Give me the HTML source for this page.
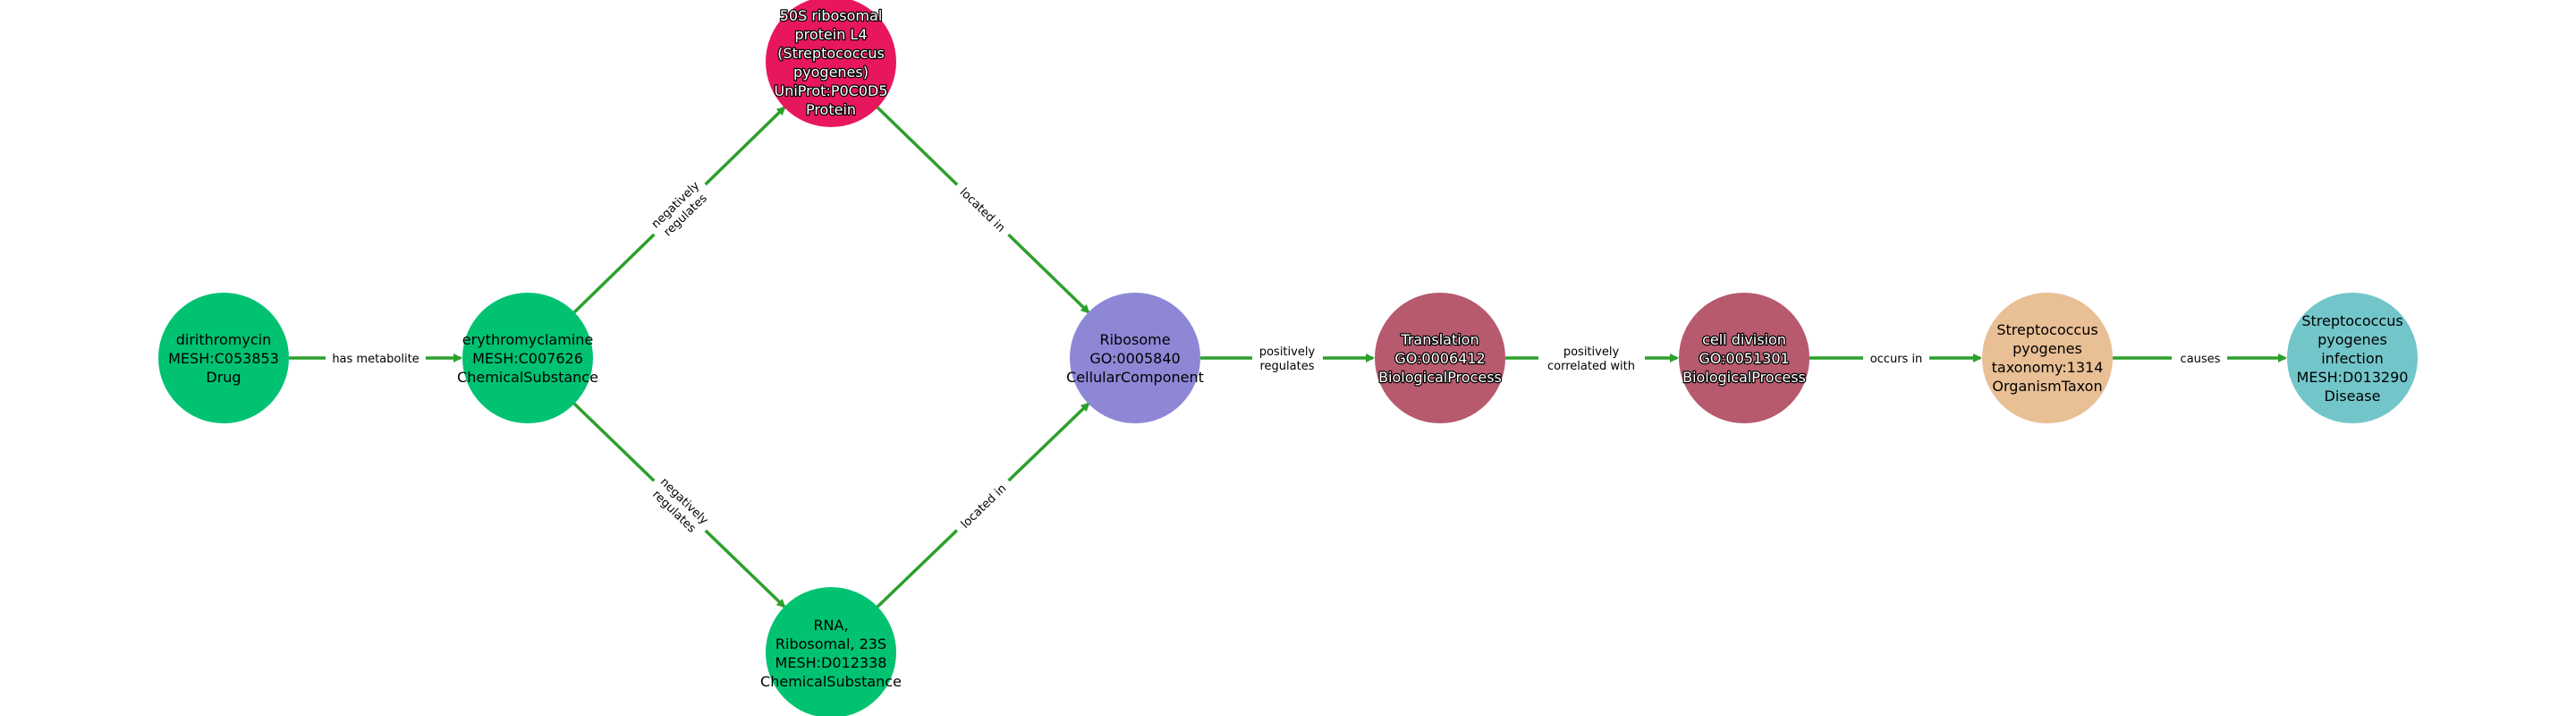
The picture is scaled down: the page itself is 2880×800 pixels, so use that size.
<!DOCTYPE html>
<html><head><meta charset="utf-8"><style>
html,body{margin:0;padding:0;background:#fff}
svg{display:block}
text{font-family:"DejaVu Sans","Liberation Sans",sans-serif}
.n{font-size:16px;text-anchor:middle;fill:#000}
.w{fill:#fff;stroke:#000;stroke-width:2.5px;paint-order:stroke;stroke-linejoin:round}
.e{font-size:13px;text-anchor:middle;fill:#000}
.l{stroke:#2ca02c;stroke-width:3.5;fill:none}
</style></head><body>
<svg width="2880" height="800" viewBox="0 0 2880 800" xmlns="http://www.w3.org/2000/svg">
<defs><marker id="a" markerWidth="10" markerHeight="10" refX="8" refY="5" orient="auto" markerUnits="userSpaceOnUse"><path d="M0,0 L10,5 L0,10 z" fill="#2ca02c"/></marker></defs>
<line class="l" x1="323" y1="400" x2="515" y2="400" marker-end="url(#a)"/>
<line class="l" x1="642" y1="349" x2="877" y2="120" marker-end="url(#a)"/>
<line class="l" x1="642" y1="451" x2="877" y2="678" marker-end="url(#a)"/>
<line class="l" x1="981" y1="120" x2="1217" y2="349" marker-end="url(#a)"/>
<line class="l" x1="981" y1="678" x2="1217" y2="451" marker-end="url(#a)"/>
<line class="l" x1="1342" y1="400" x2="1535" y2="400" marker-end="url(#a)"/>
<line class="l" x1="1683" y1="400" x2="1875" y2="400" marker-end="url(#a)"/>
<line class="l" x1="2023" y1="400" x2="2214" y2="400" marker-end="url(#a)"/>
<line class="l" x1="2362" y1="400" x2="2555" y2="400" marker-end="url(#a)"/>
<rect x="364" y="390" width="112" height="20" fill="#fff"/>
<text class="e" x="420" y="405">has metabolite</text>
<g transform="translate(760,234) rotate(-44)"><rect x="-40" y="-19" width="80" height="38" fill="#fff"/><text class="e" y="-3">negatively</text><text class="e" y="13">regulates</text></g>
<g transform="translate(760,565) rotate(44)"><rect x="-40" y="-19" width="80" height="38" fill="#fff"/><text class="e" y="-3">negatively</text><text class="e" y="13">regulates</text></g>
<g transform="translate(1099,234) rotate(44)"><rect x="-40" y="-11" width="80" height="22" fill="#fff"/><text class="e" y="5">located in</text></g>
<g transform="translate(1099,565) rotate(-44)"><rect x="-40" y="-11" width="80" height="22" fill="#fff"/><text class="e" y="5">located in</text></g>
<rect x="1400" y="382" width="79" height="36" fill="#fff"/>
<text class="e" x="1439" y="397">positively</text><text class="e" x="1439" y="413">regulates</text>
<rect x="1720" y="382" width="119" height="36" fill="#fff"/>
<text class="e" x="1779" y="397">positively</text><text class="e" x="1779" y="413">correlated with</text>
<rect x="2083" y="390" width="74" height="20" fill="#fff"/>
<text class="e" x="2120" y="405">occurs in</text>
<rect x="2428" y="390" width="62" height="20" fill="#fff"/>
<text class="e" x="2460" y="405">causes</text>
<circle cx="250" cy="400" r="73" fill="#00c271"/>
<circle cx="590" cy="400" r="73" fill="#00c271"/>
<circle cx="929" cy="69" r="73" fill="#e8175d"/>
<circle cx="929" cy="729" r="73" fill="#00c271"/>
<circle cx="1269" cy="400" r="73" fill="#8d87d6"/>
<circle cx="1610" cy="400" r="73" fill="#b75a6e"/>
<circle cx="1950" cy="400" r="73" fill="#b75a6e"/>
<circle cx="2289" cy="400" r="73" fill="#e9bf95"/>
<circle cx="2630" cy="400" r="73" fill="#72c6ca"/>
<text class="n" x="250" y="385">dirithromycin</text><text class="n" x="250" y="406">MESH:C053853</text><text class="n" x="250" y="427">Drug</text>
<text class="n" x="590" y="385">erythromyclamine</text><text class="n" x="590" y="406">MESH:C007626</text><text class="n" x="590" y="427">ChemicalSubstance</text>
<g class="n w"><text x="929" y="23">50S ribosomal</text><text x="929" y="44">protein L4</text><text x="929" y="65">(Streptococcus</text><text x="929" y="86">pyogenes)</text><text x="929" y="107">UniProt:P0C0D5</text><text x="929" y="128">Protein</text></g>
<text class="n" x="929" y="704">RNA,</text><text class="n" x="929" y="725">Ribosomal, 23S</text><text class="n" x="929" y="746">MESH:D012338</text><text class="n" x="929" y="767">ChemicalSubstance</text>
<text class="n" x="1269" y="385">Ribosome</text><text class="n" x="1269" y="406">GO:0005840</text><text class="n" x="1269" y="427">CellularComponent</text>
<g class="n w"><text x="1610" y="385">Translation</text><text x="1610" y="406">GO:0006412</text><text x="1610" y="427">BiologicalProcess</text></g>
<g class="n w"><text x="1950" y="385">cell division</text><text x="1950" y="406">GO:0051301</text><text x="1950" y="427">BiologicalProcess</text></g>
<text class="n" x="2289" y="374">Streptococcus</text><text class="n" x="2289" y="395">pyogenes</text><text class="n" x="2289" y="416">taxonomy:1314</text><text class="n" x="2289" y="437">OrganismTaxon</text>
<text class="n" x="2630" y="364">Streptococcus</text><text class="n" x="2630" y="385">pyogenes</text><text class="n" x="2630" y="406">infection</text><text class="n" x="2630" y="427">MESH:D013290</text><text class="n" x="2630" y="448">Disease</text>
</svg>
</body></html>
